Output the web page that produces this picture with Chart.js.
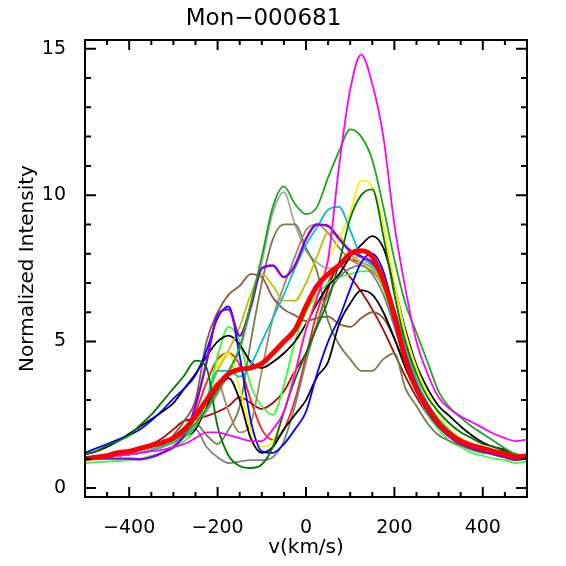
<!DOCTYPE html>
<html lang="en">
<head>
    <meta charset="UTF-8">
    <title>Mon-000681</title>
    <script src="https://cdn.jsdelivr.net/npm/chart.js"></script>
    <style>
        body { margin: 0; background: #fff; }
        canvas { display: block; }
    </style>
</head>
<body>
    <canvas id="profileChart" width="566" height="566"></canvas>

    <script>
        // velocity grid (km/s)
        const velocities = [-500,-475,-450,-425,-400,-375,-350,-325,-300,-275,-250,-225,-200,-175,-150,-125,-100,-75,-50,-25,
            0,25,50,75,100,125,150,175,200,225,250,275,300,325,350,375,400,425,450,475,500];

        const xTickValues = [-400, -200, 0, 200, 400];
        const yTickValues = [0, 5, 10, 15];

        // normalized intensity of each profile, one value per velocity
        const meanProfile = [1.0,1.05,1.1,1.2,1.25,1.35,1.45,1.55,1.7,2.0,2.45,3.0,3.5,3.9,4.05,4.1,4.25,4.6,5.0,5.4,
            6.2,6.9,7.3,7.6,8.0,8.1,7.9,7.1,5.9,4.4,3.4,2.75,2.2,1.85,1.6,1.45,1.35,1.25,1.15,1.05,1.1];
        const magentaProfile = [1.05,1.05,1.1,1.1,1.15,1.2,1.25,1.3,1.4,1.5,1.7,1.9,1.9,1.8,1.7,1.6,1.6,2.0,2.6,3.9,
            5.4,6.5,7.8,11.0,13.6,14.8,13.8,12.0,9.0,6.8,5.0,3.9,3.1,2.7,2.45,2.25,2.05,1.85,1.7,1.6,1.65];
        const greenProfile = [1.0,1.05,1.1,1.15,1.2,1.3,1.4,1.5,1.65,1.85,2.2,2.7,3.3,4.0,4.8,6.3,7.9,9.6,10.3,9.7,
            9.35,9.6,10.6,11.5,12.25,12.0,11.2,9.6,7.8,6.3,5.3,4.3,3.3,2.75,2.4,2.1,1.85,1.6,1.35,1.15,1.1];
        const darkGreenProfile = [1.15,1.25,1.45,1.6,1.8,2.15,2.5,2.95,3.4,3.85,4.35,4.1,2.1,1.1,0.75,0.68,0.8,1.4,2.6,3.7,
            4.6,5.5,6.4,7.7,9.2,10.0,10.2,8.6,6.6,5.0,3.9,3.1,2.6,2.2,1.9,1.7,1.5,1.4,1.25,1.1,1.1];
        const blueProfile = [1.2,1.35,1.5,1.65,1.8,2.0,2.3,2.65,3.05,3.4,3.85,4.7,5.8,6.2,4.5,2.3,1.25,1.2,1.5,2.0,
            2.6,3.9,5.0,5.8,6.8,7.7,8.0,7.4,6.0,4.6,3.5,2.7,2.2,1.8,1.55,1.4,1.3,1.2,1.1,1.0,1.05];
        const purpleProfile = [1.0,1.0,1.0,1.0,1.0,0.98,1.05,1.2,1.4,1.8,2.8,4.3,5.9,6.1,5.2,6.2,7.5,7.6,7.2,7.6,
            8.5,9.0,8.95,8.5,8.1,7.9,7.7,7.1,5.7,4.3,3.3,2.6,2.1,1.75,1.5,1.35,1.25,1.15,1.05,0.95,1.05];
        const cyanProfile = [1.0,1.0,1.05,1.1,1.15,1.2,1.3,1.4,1.55,1.75,2.1,3.0,4.0,4.0,3.8,4.2,5.0,5.8,6.6,7.5,
            8.3,8.9,9.5,9.6,8.8,7.9,7.6,7.1,6.1,4.9,3.7,2.9,2.35,1.95,1.65,1.45,1.3,1.2,1.1,1.0,1.05];
        const yellowProfile = [1.0,1.0,1.05,1.1,1.15,1.2,1.3,1.4,1.5,1.7,2.1,2.9,4.2,4.6,3.4,2.0,1.4,1.6,2.6,4.0,
            5.5,6.6,7.8,8.5,9.4,10.5,10.3,9.0,7.0,5.3,4.1,3.2,2.5,2.0,1.7,1.5,1.35,1.25,1.15,1.05,1.05];
        const oliveYellowProfile = [1.0,1.0,1.05,1.1,1.15,1.2,1.3,1.4,1.6,1.85,2.2,3.0,4.0,4.7,5.5,6.6,7.3,6.9,6.4,6.4,
            7.0,7.9,8.7,8.6,8.0,7.7,7.5,6.9,5.8,4.6,3.5,2.8,2.2,1.8,1.55,1.4,1.3,1.2,1.1,1.0,1.05];
        const blackProfile = [1.15,1.25,1.4,1.6,1.85,2.1,2.35,2.6,2.9,3.4,3.9,4.5,5.0,5.2,4.9,4.3,4.1,4.3,4.6,5.0,
            5.6,6.3,6.9,7.3,7.9,8.3,8.6,8.2,6.9,5.4,4.2,3.4,2.8,2.45,2.1,1.8,1.55,1.4,1.3,1.15,1.1];
        const black2Profile = [1.0,1.02,1.05,1.1,1.15,1.2,1.3,1.4,1.55,1.75,2.0,2.8,3.4,3.75,3.0,1.7,1.2,1.4,2.0,2.5,
            3.0,3.8,4.3,5.6,6.3,6.75,6.6,6.0,5.1,4.1,3.3,2.7,2.2,1.85,1.6,1.4,1.3,1.2,1.1,1.0,1.05];
        const siennaProfile = [1.0,1.0,1.05,1.1,1.15,1.2,1.3,1.45,1.8,2.3,3.0,5.0,6.0,6.6,6.9,7.3,7.2,6.5,6.1,5.9,
            5.7,5.8,5.85,5.6,5.5,5.8,6.0,5.8,5.1,4.2,3.3,2.6,2.1,1.75,1.5,1.35,1.25,1.15,1.05,0.98,1.0];
        const tanProfile = [1.0,1.0,1.05,1.1,1.15,1.2,1.3,1.4,1.55,1.75,2.0,2.8,3.6,2.6,1.9,2.2,4.0,5.8,6.9,7.9,
            8.8,9.0,8.7,8.2,7.8,7.6,7.4,6.9,5.9,4.7,3.6,2.8,2.2,1.8,1.55,1.4,1.3,1.2,1.1,1.0,1.05];
        const oliveDrabProfile = [1.0,1.0,1.05,1.1,1.15,1.2,1.3,1.4,1.55,1.8,2.2,1.8,1.5,2.0,2.8,5.0,7.0,8.5,9.0,9.0,
            8.2,7.4,5.7,4.9,4.4,4.0,4.0,4.4,4.6,3.4,2.8,2.2,1.8,1.6,1.45,1.3,1.2,1.15,1.05,0.95,1.0];
        const lightGrayProfile = [1.0,1.0,1.05,1.1,1.15,1.2,1.3,1.4,1.55,1.75,2.1,2.6,3.2,3.9,4.7,6.1,7.7,9.4,10.1,9.0,
            8.1,7.7,7.5,7.6,7.8,7.9,7.6,7.0,5.8,4.5,3.4,2.7,2.15,1.8,1.55,1.4,1.3,1.2,1.1,1.0,1.05];
        const grayProfile = [1.0,1.0,1.05,1.1,1.15,1.2,1.3,1.45,1.65,1.85,2.0,1.4,1.05,0.85,0.9,0.95,0.95,1.05,1.6,2.8,
            4.3,5.6,6.6,7.2,7.5,7.6,7.3,6.6,5.5,4.3,3.3,2.6,2.1,1.75,1.5,1.35,1.25,1.15,1.05,1.0,1.0];
        const limeProfile = [0.85,0.88,0.9,0.92,0.95,1.0,1.1,1.2,1.35,1.6,2.0,3.0,4.5,5.5,5.0,3.5,2.8,2.5,3.5,5.0,
            6.0,6.6,7.0,7.2,7.3,7.4,7.4,6.8,5.6,4.4,3.3,2.5,2.0,1.6,1.4,1.2,1.1,1.0,0.95,0.85,0.9];
        const darkRedProfile = [1.0,1.05,1.1,1.15,1.25,1.35,1.5,1.7,2.0,2.3,2.35,2.45,2.6,2.8,3.1,2.9,2.7,2.9,3.3,4.0,
            4.6,5.6,6.8,7.6,7.2,6.7,6.1,5.4,4.6,3.8,3.1,2.5,2.1,1.75,1.5,1.35,1.25,1.15,1.05,1.0,1.05];
        const redProfile = [1.0,1.0,1.05,1.1,1.15,1.2,1.3,1.4,1.6,2.0,2.6,3.6,4.4,4.6,4.2,3.0,2.0,1.65,2.0,3.0,
            4.5,6.0,7.0,7.6,7.8,7.7,7.5,6.9,5.7,4.4,3.4,2.7,2.1,1.75,1.5,1.35,1.25,1.15,1.05,1.0,1.05];

        // mean profile first so it is drawn on top
        const series = [
            { values: meanProfile, color: '#ff0000', width: 5 },
            { values: magentaProfile, color: '#ff00ff', width: 1.8 },
            { values: greenProfile, color: '#1aa81a', width: 1.8 },
            { values: darkGreenProfile, color: '#007800', width: 1.8 },
            { values: purpleProfile, color: '#8a00e0', width: 2.4 },
            { values: blueProfile, color: '#0000ff', width: 1.8 },
            { values: cyanProfile, color: '#00c0d0', width: 1.8 },
            { values: yellowProfile, color: '#f4f400', width: 1.8 },
            { values: oliveYellowProfile, color: '#c0c000', width: 1.8 },
            { values: blackProfile, color: '#000000', width: 1.8 },
            { values: black2Profile, color: '#000000', width: 1.8 },
            { values: siennaProfile, color: '#8b5a3c', width: 1.8 },
            { values: tanProfile, color: '#a88660', width: 1.8 },
            { values: oliveDrabProfile, color: '#6f8048', width: 1.8 },
            { values: lightGrayProfile, color: '#a8a8a8', width: 1.8 },
            { values: grayProfile, color: '#808080', width: 1.8 },
            { values: limeProfile, color: '#33ff33', width: 1.8 },
            { values: darkRedProfile, color: '#b00000', width: 1.8 },
            { values: redProfile, color: '#ff2020', width: 1.8 }
        ];

        // IDL-style closed frame with inward ticks
        const frameTicks = {
            id: 'frameTicks',
            afterDraw(chart) {
                const { ctx, chartArea: a, scales: { x, y } } = chart;
                ctx.save();
                ctx.strokeStyle = '#000';
                ctx.lineWidth = 2;
                ctx.beginPath();
                for (let v = -450; v <= 450; v += 50) {
                    const px = x.getPixelForValue(v);
                    const len = v % 200 === 0 ? 10 : 5;
                    ctx.moveTo(px, a.bottom); ctx.lineTo(px, a.bottom - len);
                    ctx.moveTo(px, a.top); ctx.lineTo(px, a.top + len);
                }
                for (let v = 0; v <= 15; v++) {
                    const py = y.getPixelForValue(v);
                    const len = v % 5 === 0 ? 11 : 6;
                    ctx.moveTo(a.left, py); ctx.lineTo(a.left + len, py);
                    ctx.moveTo(a.right, py); ctx.lineTo(a.right - len, py);
                }
                ctx.stroke();
                ctx.strokeRect(a.left, a.top, a.right - a.left, a.bottom - a.top);
                ctx.restore();
            }
        };

        Chart.defaults.font.family = "'DejaVu Sans', sans-serif";
        Chart.defaults.color = '#000';

        new Chart(document.getElementById('profileChart'), {
            type: 'line',
            data: {
                datasets: series.map(s => ({
                    data: velocities.map((v, i) => ({ x: v, y: s.values[i] })),
                    borderColor: s.color,
                    borderWidth: s.width,
                    pointRadius: 0,
                    fill: false,
                    cubicInterpolationMode: 'monotone'
                }))
            },
            options: {
                responsive: false,
                devicePixelRatio: 1,
                animation: false,
                layout: { padding: { top: 0, right: 39, left: 0, bottom: 0 } },
                plugins: {
                    legend: { display: false },
                    tooltip: { enabled: false },
                    title: {
                        display: true,
                        text: 'Mon\u2212000681',
                        font: { size: 23, weight: 'normal' },
                        color: '#000',
                        padding: { top: 5, bottom: 7.4 }
                    }
                },
                scales: {
                    x: {
                        type: 'linear',
                        min: -500,
                        max: 500,
                        grid: { display: false },
                        border: { display: false },
                        afterBuildTicks: s => { s.ticks = xTickValues.map(v => ({ value: v })); },
                        afterFit: s => { s.height = 69; },
                        ticks: {
                            font: { size: 19 },
                            padding: 12,
                            maxRotation: 0,
                            callback: v => String(v).replace('-', '\u2212')
                        },
                        title: {
                            display: true,
                            text: 'v(km/s)',
                            font: { size: 20 },
                            padding: { top: 0, bottom: 6 }
                        }
                    },
                    y: {
                        type: 'linear',
                        min: -0.31,
                        max: 15.3,
                        grid: { display: false },
                        border: { display: false },
                        afterBuildTicks: s => { s.ticks = yTickValues.map(v => ({ value: v })); },
                        afterFit: s => { s.width = 85; },
                        ticks: {
                            font: { size: 19 },
                            padding: 11
                        },
                        title: {
                            display: true,
                            text: 'Normalized Intensity',
                            font: { size: 20 },
                            padding: { top: 16, bottom: 0 }
                        }
                    }
                }
            },
            plugins: [frameTicks]
        });
    </script>
</body>
</html>
